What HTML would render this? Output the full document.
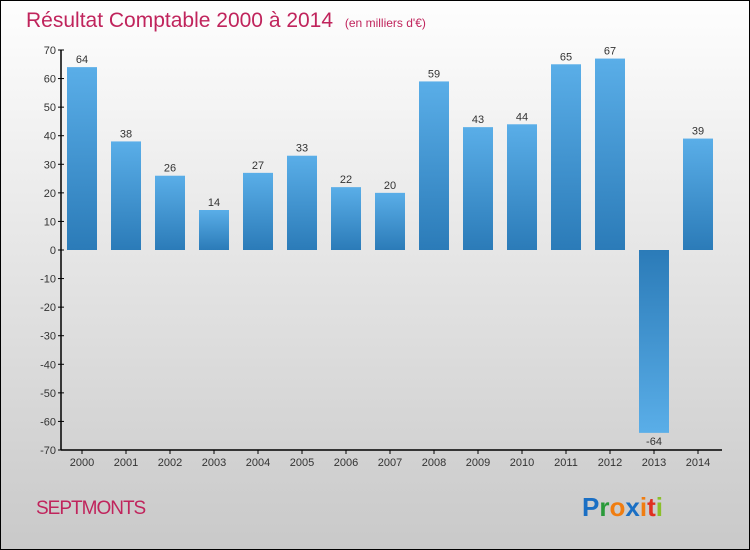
<!DOCTYPE html>
<html><head><meta charset="utf-8"><style>
body{margin:0}
#wrap{position:relative;width:750px;height:550px;box-sizing:border-box;border:1px solid #000;background:linear-gradient(#fefefe,#c9c9c9);font-family:"Liberation Sans",sans-serif;overflow:hidden}
</style></head><body>
<div id="wrap">
<svg id="chart" width="750" height="550" style="position:absolute;left:-1px;top:-1px">
<defs>
<linearGradient id="gp" x1="0" y1="0" x2="0" y2="1"><stop offset="0" stop-color="#5aaee8"/><stop offset="1" stop-color="#2b7bb8"/></linearGradient>
<linearGradient id="gn" x1="0" y1="0" x2="0" y2="1"><stop offset="0" stop-color="#2b7bb8"/><stop offset="1" stop-color="#5aaee8"/></linearGradient>
</defs>
<text x="26" y="27" font-size="21" fill="#c0245c">Résultat Comptable 2000 à 2014 <tspan font-size="12" dx="6">(en milliers d'€)</tspan></text>
<text x="36" y="514" font-size="19" fill="#c0245c" letter-spacing="-1">SEPTMONTS</text>
<text x="582" y="516" font-size="26" font-weight="bold"><tspan fill="#1a6fc4">P</tspan><tspan fill="#2a9a3a">r</tspan><tspan fill="#f07d10">o</tspan><tspan fill="#1a6fc4">x</tspan><tspan fill="#f07d10">i</tspan><tspan fill="#e03020">t</tspan><tspan fill="#8bbf2a">i</tspan></text>
<g id="plot"></g>
</svg>
</div>
<script>
const categories=["2000","2001","2002","2003","2004","2005","2006","2007","2008","2009","2010","2011","2012","2013","2014"];
const values=[64,38,26,14,27,33,22,20,59,43,44,65,67,-64,39];
const yTicks=[70,60,50,40,30,20,10,0,-10,-20,-30,-40,-50,-60,-70];
const X0=61,X1=722,Y0=50,Y1=450,ymin=-70,ymax=70,band=44;
const y=v=>Y1-(v-ymin)/(ymax-ymin)*(Y1-Y0);
const xc=i=>X0+band/2+i*band-1;
const NS="http://www.w3.org/2000/svg";
const g=document.getElementById('plot');
function mk(t,a){const e=document.createElementNS(NS,t);for(const k in a)e.setAttribute(k,a[k]);g.appendChild(e);return e;}
values.forEach((v,i)=>{
 const top=Math.min(y(v),y(0)),h=Math.abs(y(v)-y(0));
 const r=mk('rect',{x:xc(i)-15,y:top,width:30,height:h,fill:v>=0?'url(#gp)':'url(#gn)'});
 
 
 const t=mk('text',{x:xc(i),y:v>=0?top-4:top+h+12,'font-size':11,fill:'#333','text-anchor':'middle'});
 t.textContent=v;
 
 
 const tk=mk('line',{x1:xc(i),x2:xc(i),y1:Y1,y2:Y1+4,stroke:'#000'});
 
 
 const xl=mk('text',{x:xc(i),y:Y1+16,'font-size':11,fill:'#333','text-anchor':'middle'});
 xl.textContent=categories[i];
 
 
});
yTicks.forEach(v=>{
 const tk=mk('line',{x1:X0-3,x2:X0+3,y1:y(v),y2:y(v),stroke:'#000'});
 
 
 const l=mk('text',{x:X0-5,y:y(v)+4,'font-size':11,fill:'#333','text-anchor':'end'});
 l.textContent=v;
 
 
});
const ya=mk('line',{x1:X0,x2:X0,y1:Y0,y2:Y1,stroke:'#000','stroke-width':1.5});


const xa=mk('line',{x1:X0,x2:X1,y1:Y1,y2:Y1,stroke:'#000','stroke-width':1.5});


</script>
</body></html>
